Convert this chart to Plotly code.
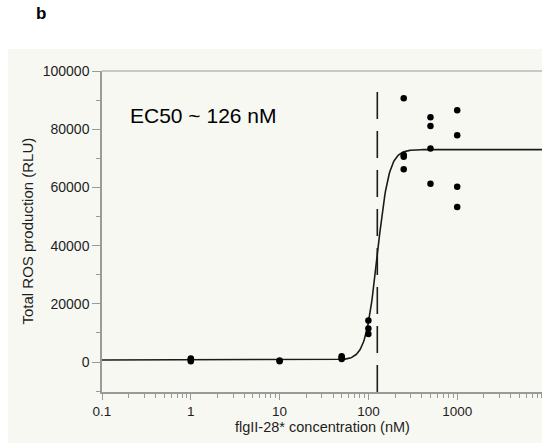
import numpy as np
import plotly.graph_objects as go

# Measured data (concentration in nM, total ROS in RLU)
conc = [1, 1, 1, 10, 10, 50, 50, 50, 100, 100, 100,
        250, 250, 250, 250, 500, 500, 500, 500, 1000, 1000, 1000, 1000]
ros = [300, 900, 1200, 300, 500, 1000, 1500, 2000, 9600, 11500, 14300,
       90600, 71100, 70500, 66200, 84100, 81100, 73400, 61300, 86500, 77900, 60200, 53300]

# Fitted dose-response (Hill) parameters
fit_bottom = 700
fit_top = 73000
ec50 = 126
hill = 6.6

y_ticks = [0, 20000, 40000, 60000, 80000, 100000]
y_ticklabels = ["0", "20000", "40000", "60000", "80000", "100000"]
x_ticks = [0.1, 1, 10, 100, 1000]
x_ticklabels = ["0.1", "1", "10", "100", "1000"]

xf = np.geomspace(0.1, 9000, 600)
yf = fit_bottom + (fit_top - fit_bottom) / (1 + (ec50 / xf) ** hill)

FONT = "Liberation Sans, Arial, Helvetica, sans-serif"
AX = "#9a9a9a"

fig = go.Figure()
fig.add_trace(go.Scatter(x=xf, y=yf, mode="lines",
                         line=dict(color="#1a1a1a", width=1.6), hoverinfo="skip"))
fig.add_trace(go.Scatter(x=conc, y=ros, mode="markers",
                         marker=dict(color="black", size=6.5)))

fig.add_shape(type="line", xref="x", yref="y", x0=ec50, x1=ec50, y0=-10300, y1=96000,
              line=dict(color="#1a1a1a", width=1.6, dash="27px,12px"))
# top border of plot frame
fig.add_shape(type="line", xref="paper", yref="paper", x0=0, x1=1, y0=1, y1=1,
              line=dict(color="#c8c8c8", width=2))
# light grey panel
fig.add_shape(type="rect", xref="paper", yref="paper", x0=-0.2136, x1=1.01, y0=-0.2, y1=1.0685,
              fillcolor="#f8f8f3", line=dict(width=0), layer="below")

fig.add_annotation(text="EC50 ~ 126 nM", xref="paper", yref="paper", x=0.059, y=0.86,
                   xanchor="left", yanchor="middle", showarrow=False,
                   font=dict(family=FONT, size=21, color="black"))
fig.add_annotation(text="<b>b</b>", xref="paper", yref="paper", x=-0.139, y=1.18,
                   xanchor="center", yanchor="middle", showarrow=False,
                   font=dict(family=FONT, size=17, color="black"))
fig.add_annotation(text="Total ROS production (RLU)", xref="paper", yref="paper",
                   x=(27 - 102) / 440, y=0.5, textangle=-90, xanchor="center", yanchor="middle",
                   showarrow=False, font=dict(family=FONT, size=15, color="#1e1e1e"))
fig.add_annotation(text="flgII-28* concentration (nM)", xref="paper", yref="paper",
                   x=0.5, y=(392 - 427) / 321, xanchor="center", yanchor="middle",
                   showarrow=False, font=dict(family=FONT, size=14.5, color="#1e1e1e"))

fig.update_layout(
    width=542, height=443,
    margin=dict(l=102, r=0, t=71, b=51),
    paper_bgcolor="white", plot_bgcolor="white",
    showlegend=False,
)
fig.update_xaxes(type="log", range=[-1, 3.955], tickvals=x_ticks, ticktext=x_ticklabels,
                 showgrid=False, zeroline=False, showline=True, linecolor=AX, linewidth=1.5,
                 ticks="outside", ticklen=6, tickcolor=AX, tickwidth=1.2,
                 tickfont=dict(family=FONT, size=13.5, color="#1e1e1e"),
                 minor=dict(ticks="outside", ticklen=4, tickcolor=AX, dtick="D1", showgrid=False))
fig.update_yaxes(range=[-10300, 100000], tickvals=y_ticks, ticktext=y_ticklabels,
                 showgrid=False, zeroline=False, showline=True, linecolor=AX, linewidth=1.5,
                 ticks="outside", ticklen=8, tickcolor=AX, tickwidth=1.2,
                 tickfont=dict(family=FONT, size=14, color="#1e1e1e"),
                 minor=dict(ticks="outside", ticklen=4, tickcolor=AX, dtick=10000, showgrid=False))

fig.write_html("out.html")
